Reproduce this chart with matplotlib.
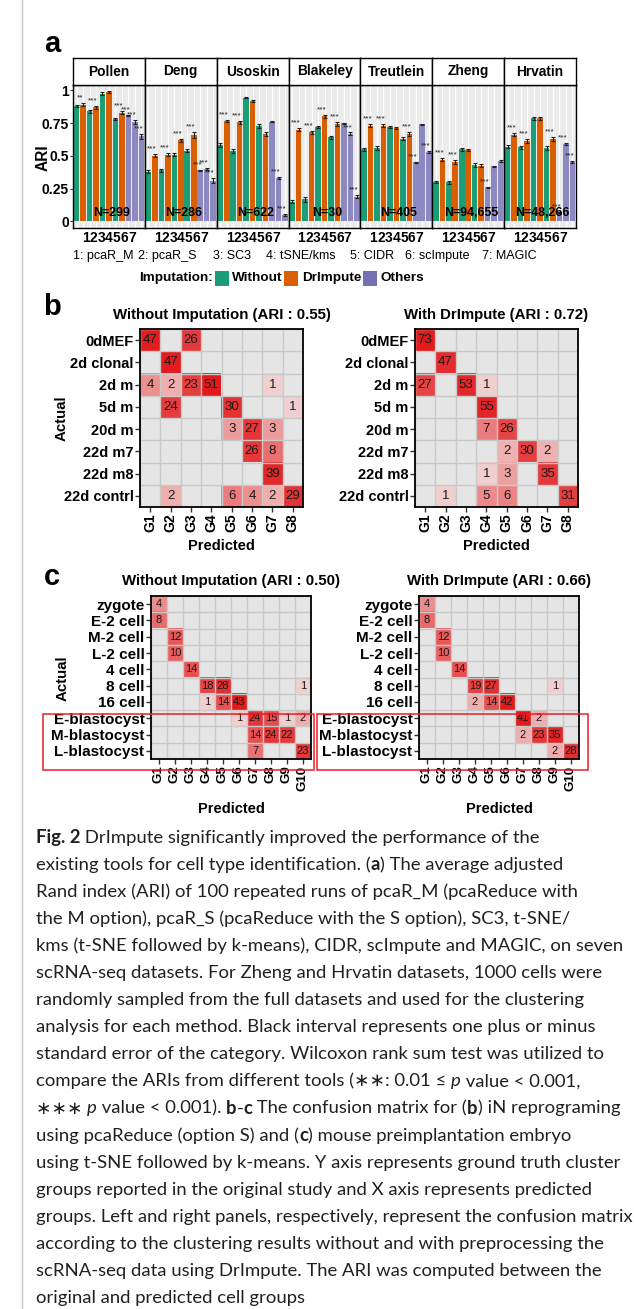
import numpy as np
import matplotlib
matplotlib.use("Agg")
import matplotlib.pyplot as plt
from matplotlib.patches import Rectangle
from matplotlib.lines import Line2D
from matplotlib.colors import LinearSegmentedColormap, LogNorm
from matplotlib.font_manager import FontProperties

# ---------------- data: panel a ----------------
datasets = ["Pollen", "Deng", "Usoskin", "Blakeley", "Treutlein", "Zheng", "Hrvatin"]
sizes = ["N=299", "N=286", "N=622", "N=30", "N=405", "N=94,655", "N=48,266"]
method_ids = ["1", "2", "3", "4", "5", "6", "7"]
method_names = ["1: pcaR_M", "2: pcaR_S", "3: SC3", "4: tSNE/kms", "5: CIDR", "6: scImpute", "7: MAGIC"]
imputation_labels = ["Without", "DrImpute", "Others"]

# methods 1-4 without imputation
ari_without = [
    [0.88, 0.84, 0.975, 0.78],
    [0.38, 0.39, 0.51, 0.54],
    [0.58, 0.535, 0.944, 0.73],
    [0.15, 0.17, 0.72, 0.64],
    [0.55, 0.56, 0.72, 0.63],
    [0.30, 0.30, 0.55, 0.43],
    [0.57, 0.565, 0.785, 0.56],
]
# methods 1-4 with DrImpute
ari_drimpute = [
    [0.89, 0.87, 0.99, 0.83],
    [0.50, 0.51, 0.62, 0.66],
    [0.765, 0.757, 0.916, 0.67],
    [0.70, 0.68, 0.80, 0.74],
    [0.73, 0.73, 0.71, 0.67],
    [0.47, 0.455, 0.545, 0.425],
    [0.66, 0.61, 0.785, 0.63],
]
# methods 5-7 (CIDR, scImpute, MAGIC)
ari_others = [
    [0.81, 0.755, 0.65],
    [0.39, 0.40, 0.31],
    [0.76, 0.33, 0.05],
    [0.75, 0.67, 0.19],
    [0.45, 0.74, 0.53],
    [0.26, 0.42, 0.46],
    [0.07, 0.59, 0.45],
]
se_without = [
    [0.010, 0.012, 0.008, 0.010],
    [0.012, 0.010, 0.010, 0.012],
    [0.015, 0.015, 0.006, 0.015],
    [0.010, 0.020, 0.010, 0.012],
    [0.010, 0.012, 0.008, 0.012],
    [0.010, 0.012, 0.010, 0.012],
    [0.010, 0.010, 0.008, 0.012],
]
se_drimpute = [
    [0.010, 0.010, 0.008, 0.012],
    [0.012, 0.012, 0.012, 0.025],
    [0.010, 0.012, 0.006, 0.015],
    [0.012, 0.012, 0.012, 0.015],
    [0.010, 0.012, 0.008, 0.015],
    [0.012, 0.015, 0.010, 0.012],
    [0.012, 0.015, 0.008, 0.015],
]
se_others = [
    [0.004, 0.015, 0.020],
    [0.004, 0.006, 0.020],
    [0.004, 0.010, 0.010],
    [0.004, 0.008, 0.010],
    [0.004, 0.006, 0.010],
    [0.004, 0.006, 0.008],
    [0.004, 0.006, 0.008],
]
stars_drimpute = [
    ["**", "***", "***", "***"],
    ["***", "***", "***", "***"],
    ["***", "***", "", ""],
    ["***", "***", "***", "***"],
    ["***", "***", "", "***"],
    ["***", "***", "", ""],
    ["***", "***", "", "***"],
]
stars_others = [
    ["***", "***", "***"],
    ["***", "***", "***"],
    ["", "***", "***"],
    ["", "***", "***"],
    ["***", "", "***"],
    ["***", "", ""],
    ["***", "***", "***"],
]

# ---------------- data: panel b ----------------
b_rows = ["0dMEF", "2d clonal", "2d m", "5d m", "20d m", "22d m7", "22d m8", "22d contrl"]
b_cols = ["G1", "G2", "G3", "G4", "G5", "G6", "G7", "G8"]
b_without = [
    [47, 0, 26, 0, 0, 0, 0, 0],
    [0, 47, 0, 0, 0, 0, 0, 0],
    [4, 2, 23, 51, 0, 0, 1, 0],
    [0, 24, 0, 0, 30, 0, 0, 1],
    [0, 0, 0, 0, 3, 27, 3, 0],
    [0, 0, 0, 0, 0, 26, 8, 0],
    [0, 0, 0, 0, 0, 0, 39, 0],
    [0, 2, 0, 0, 6, 4, 2, 29],
]
b_with = [
    [73, 0, 0, 0, 0, 0, 0, 0],
    [0, 47, 0, 0, 0, 0, 0, 0],
    [27, 0, 53, 1, 0, 0, 0, 0],
    [0, 0, 0, 55, 0, 0, 0, 0],
    [0, 0, 0, 7, 26, 0, 0, 0],
    [0, 0, 0, 0, 2, 30, 2, 0],
    [0, 0, 0, 1, 3, 0, 35, 0],
    [0, 1, 0, 5, 6, 0, 0, 31],
]
b_titles = ["Without Imputation (ARI : 0.55)", "With DrImpute (ARI : 0.72)"]

# ---------------- data: panel c ----------------
c_rows = ["zygote", "E-2 cell", "M-2 cell", "L-2 cell", "4 cell", "8 cell", "16 cell",
          "E-blastocyst", "M-blastocyst", "L-blastocyst"]
c_cols = ["G1", "G2", "G3", "G4", "G5", "G6", "G7", "G8", "G9", "G10"]
c_without = [
    [4, 0, 0, 0, 0, 0, 0, 0, 0, 0],
    [8, 0, 0, 0, 0, 0, 0, 0, 0, 0],
    [0, 12, 0, 0, 0, 0, 0, 0, 0, 0],
    [0, 10, 0, 0, 0, 0, 0, 0, 0, 0],
    [0, 0, 14, 0, 0, 0, 0, 0, 0, 0],
    [0, 0, 0, 18, 28, 0, 0, 0, 0, 1],
    [0, 0, 0, 1, 14, 43, 0, 0, 0, 0],
    [0, 0, 0, 0, 0, 1, 24, 15, 1, 2],
    [0, 0, 0, 0, 0, 0, 14, 24, 22, 0],
    [0, 0, 0, 0, 0, 0, 7, 0, 0, 23],
]
c_with = [
    [4, 0, 0, 0, 0, 0, 0, 0, 0, 0],
    [8, 0, 0, 0, 0, 0, 0, 0, 0, 0],
    [0, 12, 0, 0, 0, 0, 0, 0, 0, 0],
    [0, 10, 0, 0, 0, 0, 0, 0, 0, 0],
    [0, 0, 14, 0, 0, 0, 0, 0, 0, 0],
    [0, 0, 0, 19, 27, 0, 0, 0, 1, 0],
    [0, 0, 0, 2, 14, 42, 0, 0, 0, 0],
    [0, 0, 0, 0, 0, 0, 41, 2, 0, 0],
    [0, 0, 0, 0, 0, 0, 2, 23, 35, 0],
    [0, 0, 0, 0, 0, 0, 0, 0, 2, 28],
]
c_titles = ["Without Imputation (ARI : 0.50)", "With DrImpute (ARI : 0.66)"]

# ---------------- caption ----------------
R, B, I = "normal", "bold", "italic"
caption_lines = [
    [("Fig. 2", B), (" DrImpute significantly improved the performance of the", R)],
    [("existing tools for cell type identification. (", R), ("a", B), (") The average adjusted", R)],
    [("Rand index (ARI) of 100 repeated runs of pcaR_M (pcaReduce with", R)],
    [("the M option), pcaR_S (pcaReduce with the S option), SC3, t-SNE/", R)],
    [("kms (t-SNE followed by k-means), CIDR, scImpute and MAGIC, on seven", R)],
    [("scRNA-seq datasets. For Zheng and Hrvatin datasets, 1000 cells were", R)],
    [("randomly sampled from the full datasets and used for the clustering", R)],
    [("analysis for each method. Black interval represents one plus or minus", R)],
    [("standard error of the category. Wilcoxon rank sum test was utilized to", R)],
    [("compare the ARIs from different tools (\u2217\u2217: 0.01 \u2264 ", R), ("p", I), (" value < 0.001,", R)],
    [("\u2217\u2217\u2217 ", R), ("p", I), (" value < 0.001). ", R), ("b", B), ("-", R), ("c", B),
     (" The confusion matrix for (", R), ("b", B), (") iN reprograming", R)],
    [("using pcaReduce (option S) and (", R), ("c", B), (") mouse preimplantation embryo", R)],
    [("using t-SNE followed by k-means. Y axis represents ground truth cluster", R)],
    [("groups reported in the original study and X axis represents predicted", R)],
    [("groups. Left and right panels, respectively, represent the confusion matrix", R)],
    [("according to the clustering results without and with preprocessing the", R)],
    [("scRNA-seq data using DrImpute. The ARI was computed between the", R)],
    [("original and predicted cell groups", R)],
]

# ---------------- style ----------------
SANS = ["Liberation Sans", "DejaVu Sans"]
CAP_FONT = ["Lato", "DejaVu Sans"]
plt.rcParams["font.family"] = SANS
GREEN, ORANGE, PURPLE = "#1b9e77", "#d95f02", "#7570b3"
PURPLE_BAR = "#8c88c2"
PANEL_BG = "#ebebeb"
CELL_BG = "#e5e5e5"
GRID = "#c9c9c9"
LOW, HIGH = "#f2cfcf", "#e31a1c"
TXT = "#231f20"

W, H, DPI = 634, 1309, 100
fig = plt.figure(figsize=(W / DPI, H / DPI), dpi=DPI)
fig.patch.set_facecolor("white")


def fx(x):
    return x / W


def fy(y):
    return 1 - y / H


def box(x0, y0, x1, y1):
    return [fx(x0), fy(y1), (x1 - x0) / W, (y1 - y0) / H]


# page border line
fig.add_artist(Line2D([fx(22), fx(22)], [0, 1], color="#c8c8c8", lw=1.0))

# panel letters
for letter, (lx, ly) in zip("abc", [(52, 44), (52, 307), (52, 577)]):
    fig.text(fx(lx), fy(ly), letter, fontsize=21, fontweight="bold", ha="center", va="center")

# ---------------- panel a ----------------
x0a, x1a = 73, 576
pw = (x1a - x0a) / len(datasets)
for i, name in enumerate(datasets):
    left = x0a + i * pw
    ax = fig.add_axes(box(left, 85, left + pw, 228))
    heights, errs, colors, stars = [], [], [], []
    for m in range(4):
        heights += [ari_without[i][m], ari_drimpute[i][m]]
        errs += [se_without[i][m], se_drimpute[i][m]]
        colors += [GREEN, ORANGE]
        stars += ["", stars_drimpute[i][m]]
    for m in range(3):
        heights.append(ari_others[i][m])
        errs.append(se_others[i][m])
        colors.append(PURPLE_BAR)
        stars.append(stars_others[i][m])
    xs = np.arange(len(heights))
    ax.set_facecolor(PANEL_BG)
    for xv in xs:
        ax.axvline(xv, color="white", lw=0.8, zorder=0)
    ax.bar(xs, heights, width=0.86, color=colors, zorder=2)
    ax.errorbar(xs, heights, yerr=errs, fmt="none", ecolor="#222222", elinewidth=0.8,
                capsize=1.2, capthick=0.8, zorder=3)
    for xv, h, e, s in zip(xs, heights, errs, stars):
        if s:
            ax.text(xv - 0.45, h + e + 0.012, s, ha="center", va="bottom", fontsize=6,
                    color="#222222", zorder=4)
    ax.text(5.4, 0.065, sizes[i], ha="center", va="center", fontsize=8.9,
            fontweight="bold", zorder=5)
    ax.set_xlim(-0.55, len(heights) - 0.45)
    ax.set_ylim(-0.05, 1.04)
    ax.set_xticks(5 + (np.arange(len(method_ids)) - 3) * 1.19)
    ax.set_xticklabels(method_ids, fontsize=9.9, fontweight="bold")
    ax.tick_params(axis="x", length=0, pad=2)
    if i == 0:
        ax.set_yticks([0, 0.25, 0.5, 0.75, 1])
        ax.set_yticklabels(["0", "0.25", "0.5", "0.75", "1"], fontsize=10, fontweight="bold")
        ax.tick_params(axis="y", length=2, width=0.8, color="#333333", pad=0.8)
    else:
        ax.set_yticks([])
    for sp in ax.spines.values():
        sp.set_color("black")
        sp.set_linewidth(1.0)
    sx = fig.add_axes(box(left, 58, left + pw, 85))
    sx.set_facecolor("white")
    sx.set_xticks([])
    sx.set_yticks([])
    for sp in sx.spines.values():
        sp.set_color("black")
        sp.set_linewidth(1.0)
    sx.text(0.5, 0.5, name, ha="center", va="center", fontsize=9.9, fontweight="bold",
            transform=sx.transAxes)

fig.text(fx(43), fy(158), "ARI", rotation=90, fontsize=11.2, fontweight="bold",
         ha="center", va="center")

for name, xpos in zip(method_names, [73, 138, 213, 266, 350, 405, 482]):
    fig.text(fx(xpos), fy(256), name, fontsize=9, ha="left", va="center")

fig.text(fx(139), fy(278), "Imputation:", fontsize=9.7, fontweight="bold", ha="left", va="center")
for lab, col, sqx, tx in zip(imputation_labels, [GREEN, ORANGE, PURPLE],
                             [215, 284, 363], [232, 302, 380]):
    fig.add_artist(Rectangle((fx(sqx), fy(286)), 14 / W, 15 / H, facecolor=col,
                             edgecolor="none", transform=fig.transFigure))
    fig.text(fx(tx), fy(278), lab, fontsize=9.7, fontweight="bold", ha="left", va="center")


# ---------------- confusion matrices ----------------
def draw_matrix(rect, mat, rows, cols, fs_num, fs_row, fs_col):
    ax = fig.add_axes(box(*rect))
    m = np.array(mat, dtype=float)
    masked = np.ma.masked_equal(m, 0)
    cmap = LinearSegmentedColormap.from_list("reds", [LOW, HIGH])
    cmap.set_bad(CELL_BG)
    ax.imshow(masked, cmap=cmap, norm=LogNorm(vmin=1, vmax=m.max()), aspect="auto",
              interpolation="nearest")
    nr, nc = m.shape
    ax.set_xticks(np.arange(nc))
    ax.set_xticklabels(cols, rotation=90, fontsize=fs_col, fontweight="bold")
    ax.set_yticks(np.arange(nr))
    ax.set_yticklabels(rows, fontsize=fs_row, fontweight="bold")
    ax.set_xticks(np.arange(-0.5, nc), minor=True)
    ax.set_yticks(np.arange(-0.5, nr), minor=True)
    ax.grid(which="minor", color=GRID, lw=1.0)
    ax.grid(which="major", visible=False)
    ax.tick_params(which="minor", length=0)
    ax.tick_params(which="major", length=3.5, width=1.0, color="#333333", pad=1.2)
    for r in range(nr):
        for c in range(nc):
            if m[r, c] > 0:
                ax.text(c, r, f"{int(m[r, c])}", ha="center", va="center",
                        fontsize=fs_num, color="#1a1a1a")
    for sp in ax.spines.values():
        sp.set_color("black")
        sp.set_linewidth(1.3)
    return ax


# panel b
for rect, mat, title in zip([(140, 329, 303, 507), (415, 329, 578, 507)],
                            [b_without, b_with], b_titles):
    draw_matrix(rect, mat, b_rows, b_cols, 9.5, 10.5, 10)
    cx = (rect[0] + rect[2]) / 2
    fig.text(fx(cx), fy(315), title, fontsize=10.8, fontweight="bold", ha="center", va="center")
    fig.text(fx(cx), fy(546), "Predicted", fontsize=10.5, fontweight="bold", ha="center", va="center")
fig.text(fx(62), fy(418), "Actual", rotation=90, fontsize=10.8, fontweight="bold",
         ha="center", va="center")

# panel c
for rect, mat, title in zip([(151, 596, 311, 759), (419, 596, 579, 759)],
                            [c_without, c_with], c_titles):
    draw_matrix(rect, mat, c_rows, c_cols, 8, 11, 9.5)
    cx = (rect[0] + rect[2]) / 2
    fig.text(fx(cx), fy(581), title, fontsize=10.8, fontweight="bold", ha="center", va="center")
    fig.text(fx(cx), fy(809), "Predicted", fontsize=10.5, fontweight="bold", ha="center", va="center")
fig.text(fx(63), fy(678), "Actual", rotation=90, fontsize=10.8, fontweight="bold",
         ha="center", va="center")

for (rx0, rx1) in [(43, 314), (317, 588)]:
    fig.add_artist(Rectangle((fx(rx0), fy(770)), (rx1 - rx0) / W, (770 - 714) / H,
                             fill=False, edgecolor="#ee1c24", lw=1.1, transform=fig.transFigure))

# ---------------- caption ----------------
renderer = fig.canvas.get_renderer()
CAP_SIZE = 13.3


def fprops(style):
    if style == B:
        return FontProperties(family=CAP_FONT, weight="bold", size=CAP_SIZE)
    if style == I:
        return FontProperties(family=CAP_FONT, style="italic", size=CAP_SIZE)
    return FontProperties(family=CAP_FONT, weight="normal", size=CAP_SIZE)


def seg_width(text, fp):
    t1 = fig.text(0, 0, "|" + text + "|", fontproperties=fp)
    t2 = fig.text(0, 0, "||", fontproperties=fp)
    w = t1.get_window_extent(renderer).width - t2.get_window_extent(renderer).width
    t1.remove()
    t2.remove()
    return w


for li, line in enumerate(caption_lines):
    xpix = 36
    ybase = 843 + 27.05 * li
    for text, style in line:
        fp = fprops(style)
        fig.text(fx(xpix), fy(ybase), text, fontproperties=fp, color=TXT,
                 ha="left", va="baseline")
        xpix += seg_width(text, fp)

fig.savefig("out.png", dpi=DPI, facecolor="white")
